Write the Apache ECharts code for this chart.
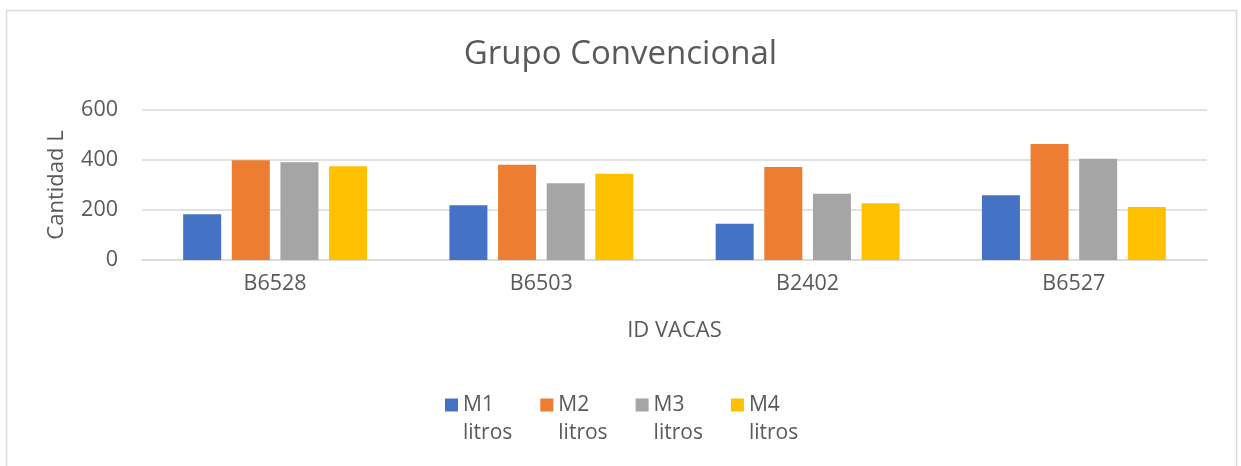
<!DOCTYPE html>
<html>
<head>
<meta charset="utf-8">
<script src="https://cdn.jsdelivr.net/npm/echarts@6/dist/echarts.min.js"></script>
<style>html,body{margin:0;padding:0;background:#fff;}#c{width:1241px;height:466px;}</style>
</head>
<body>
<div id="c"></div>
<script>
const categories = ['B6528', 'B6503', 'B2402', 'B6527'];
const seriesNames = ['M1 litros', 'M2 litros', 'M3 litros', 'M4 litros'];
const m1 = [183, 219, 145, 259];
const m2 = [399, 381, 372, 464];
const m3 = [391, 307, 265, 405];
const m4 = [375, 345, 227, 212];
const yTicks = [0, 200, 400, 600];
const colors = ['#4472C4', '#ED7D31', '#A5A5A5', '#FFC000'];

const font = '"Open Sans", sans-serif';
const txt = '#595959';
const values = [m1, m2, m3, m4];

const chart = echarts.init(document.getElementById('c'));
chart.setOption({
  animation: false,
  backgroundColor: '#fff',
  textStyle: { fontFamily: font, color: txt },
  title: {
    text: 'Grupo Convencional',
    left: 'center',
    top: 33,
    textStyle: { fontFamily: font, fontSize: 33, fontWeight: 'normal', color: txt }
  },
  graphic: [{
    type: 'rect',
    shape: { x: 6.5, y: 10.5, width: 1230, height: 500 },
    style: { fill: 'none', stroke: '#D9D9D9', lineWidth: 1.5 },
    silent: true
  }],
  grid: { left: 142, right: 34, top: 110, bottom: 206 },
  legend: {
    data: seriesNames,
    left: 445,
    top: 363,
    padding: 0,
    itemWidth: 13,
    itemHeight: 13,
    itemGap: 28,
    icon: 'rect',
    formatter: n => '\n' + n.replace(' ', '\n'),
    textStyle: { fontFamily: font, fontSize: 21, color: txt, lineHeight: 28 }
  },
  xAxis: {
    type: 'category',
    data: categories,
    name: 'ID VACAS',
    nameLocation: 'middle',
    nameGap: 60,
    nameTextStyle: { fontFamily: font, fontSize: 22, color: txt },
    axisLine: { lineStyle: { color: '#D9D9D9', width: 1.5 } },
    axisTick: { show: false },
    axisLabel: { fontFamily: font, fontSize: 21.5, color: txt, margin: 13 }
  },
  yAxis: {
    type: 'value',
    min: 0,
    max: 600,
    interval: 200,
    name: 'Cantidad L',
    nameLocation: 'middle',
    nameGap: 74,
    nameTextStyle: { fontFamily: font, fontSize: 22, color: txt },
    axisLine: { show: false },
    axisTick: { show: false },
    axisLabel: {
      fontFamily: font, fontSize: 21.5, color: txt, margin: 24,
      formatter: v => yTicks.includes(v) ? String(v) : ''
    },
    splitLine: { lineStyle: { color: '#D9D9D9', width: 1.5 } }
  },
  series: seriesNames.map((n, i) => ({
    name: n,
    type: 'bar',
    data: values[i],
    barWidth: 38,
    barGap: '28%',
    itemStyle: { color: colors[i] }
  }))
});
</script>
</body>
</html>
